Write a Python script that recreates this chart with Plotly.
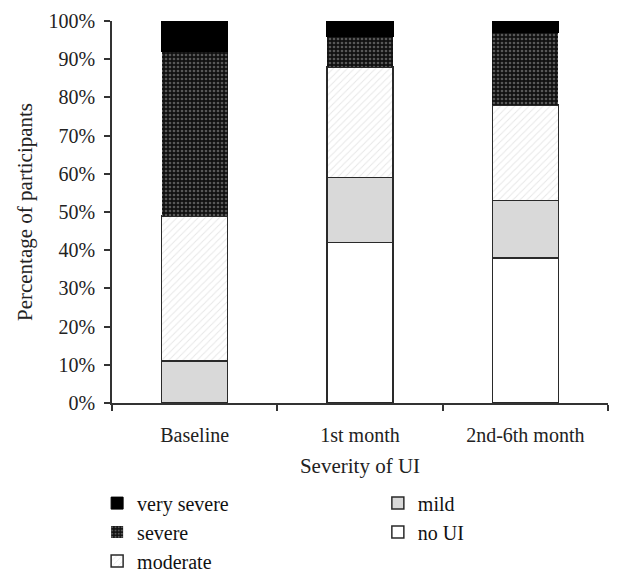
import plotly.graph_objects as go

categories = ["Baseline", "1st month", "2nd-6th month"]
no_ui = [0, 42, 38]
mild = [11, 17, 15]
moderate = [38, 29, 25]
severe = [43, 8, 19]
very_severe = [8, 4, 3]
y_ticks = [0, 10, 20, 30, 40, 50, 60, 70, 80, 90, 100]
y_tick_labels = ["0%", "10%", "20%", "30%", "40%", "50%", "60%", "70%", "80%", "90%", "100%"]

FONT = "Liberation Serif"
line = dict(color="#2a2a2a", width=1.5)

fig = go.Figure()
fig.add_trace(go.Bar(x=categories, y=no_ui, name="no UI", legend="legend2",
                     marker=dict(color="white", line=line)))
fig.add_trace(go.Bar(x=categories, y=mild, name="mild", legend="legend2",
                     marker=dict(color="#d9d9d9", line=line)))
fig.add_trace(go.Bar(x=categories, y=moderate, name="moderate", legend="legend",
                     marker=dict(color="white", line=line,
                                 pattern=dict(shape="/", fgcolor="#cfcfcf", bgcolor="white",
                                              size=5, solidity=0.2))))
fig.add_trace(go.Bar(x=categories, y=severe, name="severe", legend="legend",
                     marker=dict(color="black", line=dict(color="black", width=0),
                                 pattern=dict(shape=".", fgcolor="#a0a0a0", bgcolor="#111111",
                                              size=4, solidity=0.35))))
fig.add_trace(go.Bar(x=categories, y=very_severe, name="very severe", legend="legend",
                     marker=dict(color="black", line=dict(color="black", width=1))))

fig.update_layout(
    barmode="stack",
    bargap=0.6,
    width=634, height=575,
    margin=dict(l=104, r=34, t=13, b=180, autoexpand=False),
    plot_bgcolor="white", paper_bgcolor="white",
    font=dict(family=FONT, size=20, color="#222"),
    showlegend=True,
    legend=dict(x=-0.03, y=-0.211, xanchor="left", yanchor="top", traceorder="reversed",
                font=dict(family=FONT, size=20, color="#111"), itemwidth=30,
                bgcolor="rgba(0,0,0,0)"),
    legend2=dict(x=0.536, y=-0.211, xanchor="left", yanchor="top", traceorder="reversed",
                 font=dict(family=FONT, size=20, color="#111"), itemwidth=30,
                 bgcolor="rgba(0,0,0,0)"),
)
fig.update_xaxes(
    automargin=False,
    showline=True, linecolor="#333", linewidth=1.5,
    ticks="outside", tickson="boundaries", ticklen=6, tickcolor="#333", tickwidth=1.5,
    ticklabelstandoff=13,
    title=dict(text="Severity of UI", font=dict(family=FONT, size=21), standoff=14),
    tickfont=dict(family=FONT, size=20),
    showgrid=False,
)
fig.update_yaxes(
    automargin=False,
    range=[0, 100], tickvals=y_ticks, ticktext=y_tick_labels,
    showline=True, linecolor="#333", linewidth=1.5,
    ticks="outside", ticklen=6, tickcolor="#333", tickwidth=1.5,
    ticklabelstandoff=5,
    title=dict(text="Percentage of participants", font=dict(family=FONT, size=21), standoff=10),
    tickfont=dict(family=FONT, size=20),
    showgrid=False, zeroline=False,
)

fig.write_html("out.html")
